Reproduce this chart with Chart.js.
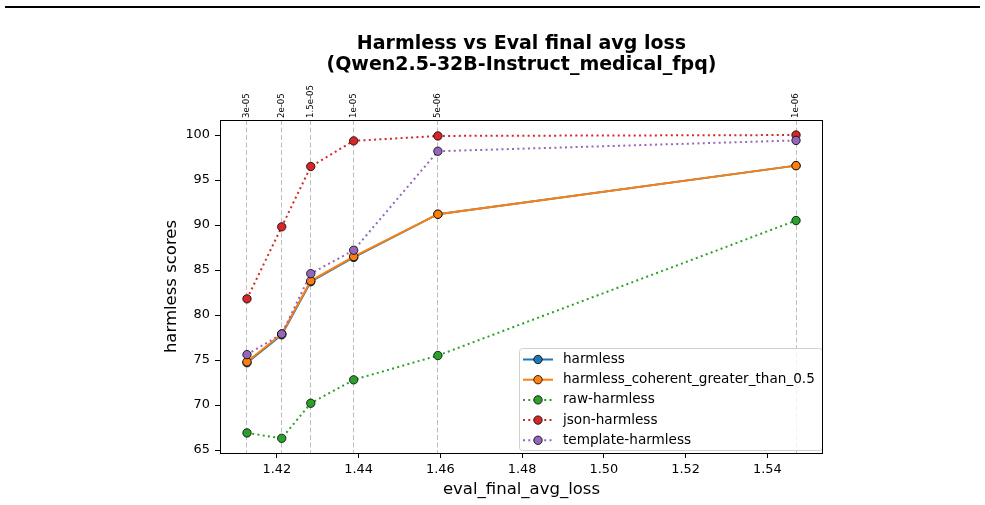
<!DOCTYPE html>
<html>
<head>
<meta charset="utf-8">
<script src="https://cdn.jsdelivr.net/npm/chart.js@4"></script>
<style>
    body { margin: 0; background: #fff; }
    .rule { position: absolute; left: 5px; top: 6px; width: 975px; height: 2px; background: #000; }
    #chart { position: absolute; left: 0; top: 0; }
</style>
</head>
<body>
<div class="rule"></div>
<canvas id="chart" width="985" height="505"></canvas>
<script>
// eval_final_avg_loss for each learning rate run
const lossX = [1.4127, 1.4212, 1.4283, 1.4388, 1.4594, 1.5470];
const lrLabels = ['3e-05', '2e-05', '1.5e-05', '1e-05', '5e-06', '1e-06'];

const harmless = [74.7, 77.8, 83.7, 86.4, 91.2, 96.6];
const harmlessCoherent = [74.8, 77.9, 83.8, 86.5, 91.2, 96.6];
const rawHarmless = [66.9, 66.3, 70.2, 72.8, 75.5, 90.5];
const jsonHarmless = [81.8, 89.8, 96.5, 99.35, 99.9, 100.0];
const templateHarmless = [75.6, 77.9, 84.6, 87.2, 98.2, 99.4];

const xTicks = [1.42, 1.44, 1.46, 1.48, 1.50, 1.52, 1.54];
const yTicks = [65, 70, 75, 80, 85, 90, 95, 100];

const font = 'DejaVu Sans';
Chart.defaults.font.family = font;
Chart.defaults.color = '#000';

function series(label, values, color, dotted, order) {
    return {
        label: label,
        data: values.map((v, i) => ({ x: lossX[i], y: v })),
        borderColor: color,
        backgroundColor: color,
        pointBackgroundColor: color,
        pointBorderColor: '#000',
        pointBorderWidth: 0.8,
        pointRadius: 4.2,
        borderWidth: 2,
        borderDash: dotted ? [2, 3.3] : [],
        tension: 0,
        order: order
    };
}

const datasets = [
    series('harmless', harmless, '#1f77b4', false, 5),
    series('harmless_coherent_greater_than_0.5', harmlessCoherent, '#ff7f0e', false, 4),
    series('raw-harmless', rawHarmless, '#2ca02c', true, 3),
    series('json-harmless', jsonHarmless, '#d62728', true, 2),
    series('template-harmless', templateHarmless, '#9467bd', true, 1)
];

// matplotlib style legend box inside the axes, lower right
const boxLegend = {
    id: 'boxLegend',
    afterDatasetsDraw(chart) {
        const ctx = chart.ctx;
        const x0 = 519, y0 = 348, w = 303, h = 102;
        ctx.save();
        ctx.beginPath();
        ctx.roundRect(x0 + 0.5, y0 + 0.5, w, h, 3);
        ctx.fillStyle = 'rgba(255,255,255,0.8)';
        ctx.fill();
        ctx.strokeStyle = '#d0d0d0';
        ctx.lineWidth = 1;
        ctx.stroke();
        chart.data.datasets.forEach((ds, i) => {
            const y = 359.5 + i * 20.2;
            ctx.beginPath();
            ctx.setLineDash(ds.borderDash);
            ctx.strokeStyle = ds.borderColor;
            ctx.lineWidth = ds.borderWidth;
            ctx.moveTo(523, y);
            ctx.lineTo(553, y);
            ctx.stroke();
            ctx.setLineDash([]);
            ctx.beginPath();
            ctx.arc(538, y, 4.2, 0, Math.PI * 2);
            ctx.fillStyle = ds.pointBackgroundColor;
            ctx.fill();
            ctx.lineWidth = 0.8;
            ctx.strokeStyle = '#000';
            ctx.stroke();
            ctx.fillStyle = '#000';
            ctx.font = '13.6px "' + font + '"';
            ctx.textBaseline = 'middle';
            ctx.textAlign = 'left';
            ctx.fillText(ds.label, 563, y);
        });
        ctx.restore();
    }
};

// four spines around the plot
const frame = {
    id: 'frame',
    afterDraw(chart) {
        const a = chart.chartArea;
        const ctx = chart.ctx;
        ctx.save();
        ctx.strokeStyle = '#000';
        ctx.lineWidth = 1;
        ctx.strokeRect(Math.round(a.left) + 0.5, Math.round(a.top) + 0.5,
            Math.round(a.right - a.left) - 1, Math.round(a.bottom - a.top));
        ctx.restore();
    }
};

new Chart(document.getElementById('chart'), {
    type: 'line',
    data: { datasets: datasets },
    plugins: [boxLegend, frame],
    options: {
        responsive: false,
        animation: false,
        devicePixelRatio: 1,
        layout: { padding: { left: 0, right: 162, top: 0, bottom: 0 } },
        plugins: {
            legend: { display: false },
            tooltip: { enabled: false },
            title: { display: false }
        },
        scales: {
            x: {
                type: 'linear',
                position: 'bottom',
                min: 1.4061,
                max: 1.5536,
                afterBuildTicks: s => { s.ticks = xTicks.map(v => ({ value: v })); },
                afterFit: s => { s.height = 52; },
                ticks: {
                    font: { size: 12.9 },
                    padding: 4,
                    maxRotation: 0,
                    autoSkip: false,
                    callback: v => v.toFixed(2)
                },
                grid: { drawOnChartArea: false, color: '#000', tickLength: 5 },
                border: { display: false },
                title: {
                    display: true,
                    text: 'eval_final_avg_loss',
                    font: { size: 16.5, lineHeight: 1.2 },
                    padding: { top: 0, bottom: 5 }
                }
            },
            x2: {
                type: 'linear',
                position: 'top',
                min: 1.4061,
                max: 1.5536,
                afterBuildTicks: s => { s.ticks = lossX.map(v => ({ value: v })); },
                afterFit: s => { s.height = 120; },
                ticks: {
                    font: { size: 8.6 },
                    padding: 2,
                    labelOffset: 10,
                    minRotation: 90,
                    maxRotation: 90,
                    autoSkip: false,
                    callback: (v, i) => lrLabels[i]
                },
                grid: { drawTicks: false, color: 'rgba(128,128,128,0.5)', lineWidth: 1 },
                border: { display: false, dash: [5, 2.5] },
                title: {
                    display: true,
                    text: ['Harmless vs Eval final avg loss', '(Qwen2.5-32B-Instruct_medical_fpq)'],
                    font: { size: 19, weight: 'bold', lineHeight: 21 / 19 },
                    padding: { top: 34, bottom: 0 }
                }
            },
            y: {
                type: 'linear',
                position: 'left',
                min: 64.67,
                max: 101.67,
                afterBuildTicks: s => { s.ticks = yTicks.map(v => ({ value: v })); },
                afterFit: s => { s.width = 220; },
                ticks: { font: { size: 12.9 }, padding: 5, autoSkip: false },
                grid: { drawOnChartArea: false, color: '#000', tickLength: 5 },
                border: { display: false },
                title: {
                    display: true,
                    text: 'harmless scores',
                    font: { size: 16.5, lineHeight: 1.2 },
                    padding: { top: 162, bottom: 0 }
                }
            }
        }
    }
});
</script>
</body>
</html>
